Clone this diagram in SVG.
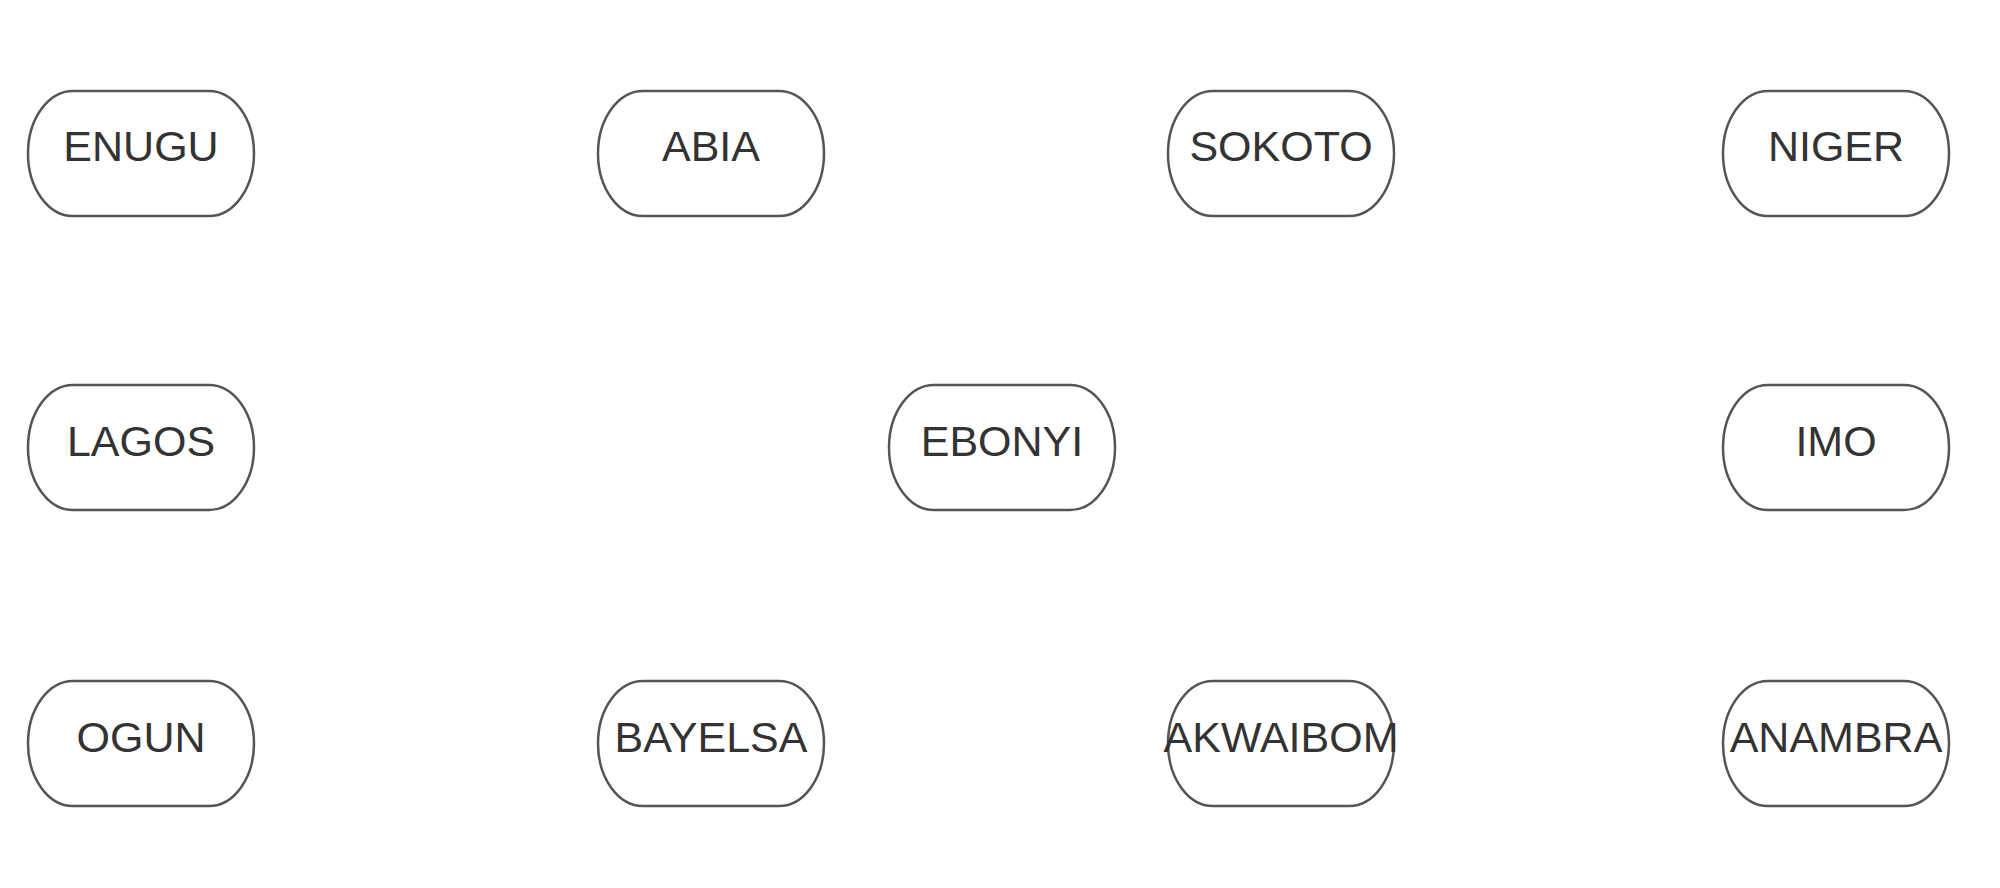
<svg xmlns="http://www.w3.org/2000/svg" width="2000" height="888" viewBox="0 0 2000 888">
<style>
.n{fill:#fff;stroke:#555;stroke-width:2.5}
.t{font-family:"Liberation Sans",Arial,sans-serif;font-size:43px;fill:#333;text-anchor:middle}
</style>
<rect width="2000" height="888" fill="#fff"/>
<g id="connectors"></g>
<g id="ENUGU"><rect class="n" x="28" y="91" width="226" height="125" rx="45" ry="62.5"/><text class="t" x="141" y="161">ENUGU</text></g>
<g id="ABIA"><rect class="n" x="598" y="91" width="226" height="125" rx="45" ry="62.5"/><text class="t" x="711" y="161">ABIA</text></g>
<g id="SOKOTO"><rect class="n" x="1168" y="91" width="226" height="125" rx="45" ry="62.5"/><text class="t" x="1281" y="161">SOKOTO</text></g>
<g id="NIGER"><rect class="n" x="1723" y="91" width="226" height="125" rx="45" ry="62.5"/><text class="t" x="1836" y="161">NIGER</text></g>
<g id="LAGOS"><rect class="n" x="28" y="385" width="226" height="125" rx="45" ry="62.5"/><text class="t" x="141" y="456">LAGOS</text></g>
<g id="EBONYI"><rect class="n" x="889" y="385" width="226" height="125" rx="45" ry="62.5"/><text class="t" x="1002" y="456">EBONYI</text></g>
<g id="IMO"><rect class="n" x="1723" y="385" width="226" height="125" rx="45" ry="62.5"/><text class="t" x="1836" y="456">IMO</text></g>
<g id="OGUN"><rect class="n" x="28" y="681" width="226" height="125" rx="45" ry="62.5"/><text class="t" x="141" y="752">OGUN</text></g>
<g id="BAYELSA"><rect class="n" x="598" y="681" width="226" height="125" rx="45" ry="62.5"/><text class="t" x="711" y="752">BAYELSA</text></g>
<g id="AKWAIBOM"><rect class="n" x="1168" y="681" width="226" height="125" rx="45" ry="62.5"/><text class="t" x="1281" y="752">AKWAIBOM</text></g>
<g id="ANAMBRA"><rect class="n" x="1723" y="681" width="226" height="125" rx="45" ry="62.5"/><text class="t" x="1836" y="752">ANAMBRA</text></g>
</svg>
